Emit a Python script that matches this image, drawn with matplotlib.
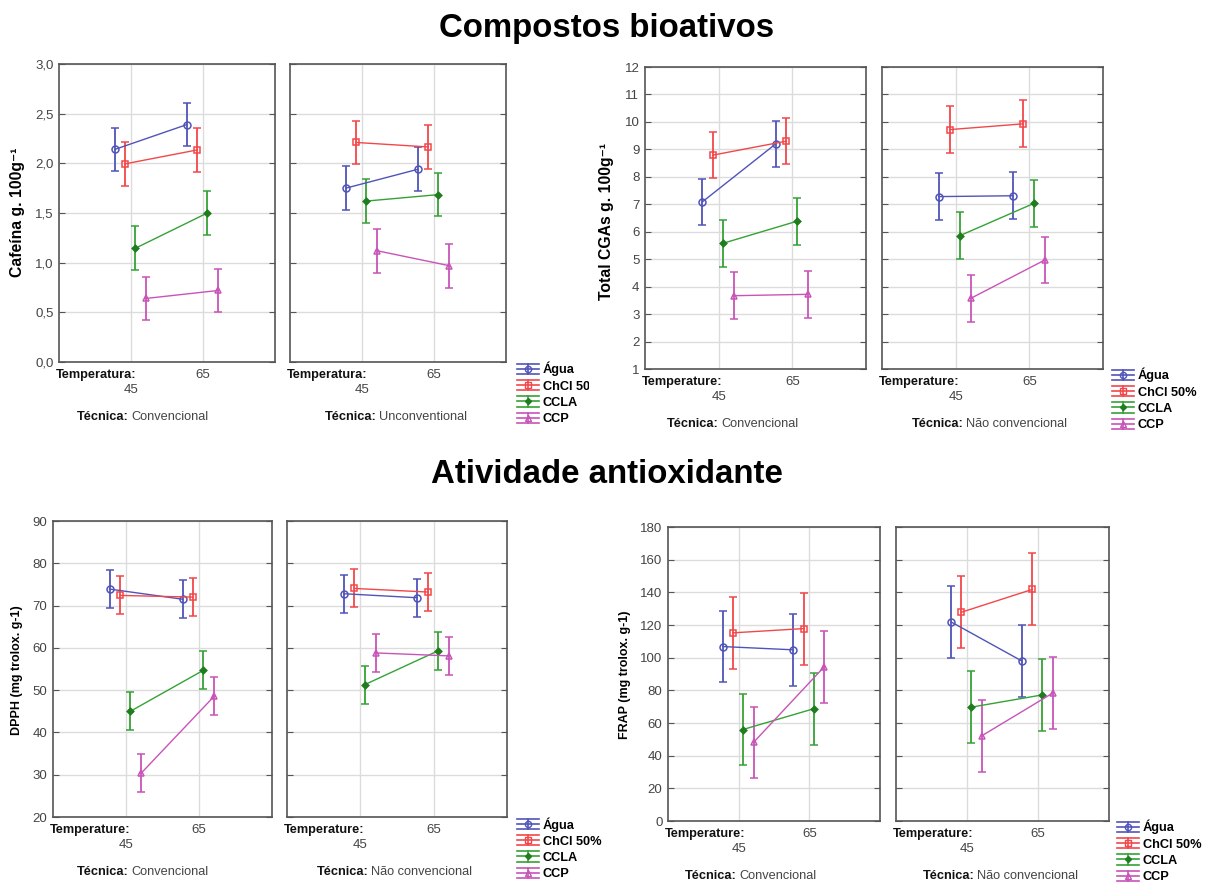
import matplotlib
matplotlib.use("Agg")
import matplotlib.pyplot as plt
import numpy as np
from matplotlib.transforms import Bbox
from matplotlib.lines import Line2D
from matplotlib.legend_handler import HandlerBase

plt.rcParams['font.family'] = ['Liberation Sans', 'DejaVu Sans']

W, H = 1206, 882

# ---- data: rows = Água, ChCl 50%, CCLA, CCP ; columns = 45, 65 °C ----
temps = ['45', '65']
series = ['Água', 'ChCl 50%', 'CCLA', 'CCP']

caf_conv = [[2.14, 2.39], [1.995, 2.135], [1.145, 1.50], [0.64, 0.72]]
caf_nconv = [[1.75, 1.94], [2.21, 2.165], [1.62, 1.685], [1.12, 0.97]]
caf_err = 0.22

cga_conv = [[7.08, 9.20], [8.79, 9.30], [5.58, 6.38], [3.67, 3.72]]
cga_nconv = [[7.28, 7.31], [9.72, 9.93], [5.86, 7.03], [3.58, 4.97]]
cga_err = 0.85

dpph_conv = [[73.9, 71.5], [72.4, 72.0], [45.0, 54.7], [30.4, 48.6]]
dpph_nconv = [[72.8, 71.85], [74.05, 73.2], [51.3, 59.3], [58.8, 58.1]]
dpph_err = 4.5

frap_conv = [[106.8, 104.8], [115.2, 117.8], [56.0, 68.7], [48.1, 94.4]]
frap_nconv = [[121.9, 97.9], [127.8, 141.8], [69.7, 77.2], [52.2, 78.4]]
frap_err = 22.0

colors = ['#5054b8', '#f2474a', '#35a235', '#c854b8']
markers = ['o', 's', 'D', '^']
msizes = [5.0, 4.8, 3.4, 5.0]
mfaces = ['none', 'none', '#1f7d1f', 'none']
medges = ['#5054b8', '#f2474a', '#1f7d1f', '#c854b8']
offsets = [-0.225, -0.08, 0.06, 0.21]

fig = plt.figure(figsize=(W / 100, H / 100), dpi=100)


def px_axes(x0, y0, x1, y1):
    return fig.add_axes([x0 / W, 1 - y1 / H, (x1 - x0) / W, (y1 - y0) / H])


def ftext(x, y, s, **kw):
    return fig.text(x / W, 1 - y / H, s, **kw)


class ErrorKeyHandler(HandlerBase):
    """Legend key: full-width caps above and below a marked line."""

    def __init__(self, idx):
        super().__init__()
        self.idx = idx

    def create_artists(self, legend, orig_handle, xdescent, ydescent,
                       width, height, fontsize, trans):
        i = self.idx
        x0, x1 = -xdescent, -xdescent + width
        cy = height / 2 - ydescent
        d = 3.7
        xm = (x0 + x1) / 2
        arts = []
        for yy in (cy - d, cy, cy + d):
            arts.append(Line2D([x0, x1], [yy, yy], color=colors[i], lw=1.2,
                               transform=trans))
        arts.append(Line2D([xm, xm], [cy - d, cy + d], color=colors[i],
                           lw=1.2, transform=trans))
        arts.append(Line2D([xm], [cy], marker=markers[i],
                           ms=msizes[i] * 0.9, mfc=mfaces[i], mec=medges[i],
                           mew=1.0, ls='none', transform=trans))
        return arts


def draw_panel(ax, data, err, ylim, yticks, ylabels):
    xs = np.arange(len(temps))
    for i, name in enumerate(series):
        ax.errorbar(xs + offsets[i], data[i], yerr=err, color=colors[i],
                    lw=1.0, elinewidth=1.3, capsize=2.6, capthick=1.2,
                    marker=markers[i], ms=msizes[i], mfc=mfaces[i],
                    mec=medges[i], mew=1.1, zorder=3)
    ax.set_xlim(-1, 2)
    ax.set_ylim(*ylim)
    ax.set_yticks(yticks)
    ax.set_xticks(xs)
    ax.grid(True, color='#dcdcdc', lw=1.0, zorder=0)
    ax.set_axisbelow(True)
    for sp in ax.spines.values():
        sp.set_color('#555555')
        sp.set_linewidth(1.2)
    ax.tick_params(axis='y', direction='in', length=4, color='#555555',
                   left=True, right=True, labelsize=9.5, labelcolor='#444444',
                   pad=4)
    ax.tick_params(axis='x', length=0, labelbottom=False)
    if ylabels is None:
        ax.tick_params(axis='y', labelleft=False)
    else:
        ax.set_yticklabels(ylabels)


def xlabels(box, tlabel, tech_x, tech_name):
    x0, y0, x1, y1 = box
    w = x1 - x0
    ftext(x0 - 3, y1 + 13, tlabel, fontsize=9.2, fontweight='bold',
          ha='left', va='center', color='#111111')
    ftext(x0 + w / 3, y1 + 28, temps[0], fontsize=9.5, ha='center',
          va='center', color='#444444')
    ftext(x0 + 2 * w / 3, y1 + 13, temps[1], fontsize=9.5, ha='center',
          va='center', color='#444444')
    ftext(tech_x, y1 + 55, 'Técnica:', fontsize=9.2, fontweight='bold',
          ha='left', va='center', color='#111111')
    ftext(tech_x + 54, y1 + 55, tech_name, fontsize=9.2, ha='left',
          va='center', color='#444444')


def add_legend(x, y, clip_x=None):
    proxies = [Line2D([], [], color=c) for c in colors]
    hmap = {p: ErrorKeyHandler(i) for i, p in enumerate(proxies)}
    leg = fig.legend(proxies, series, handler_map=hmap, loc='upper left',
                     bbox_to_anchor=(x / W, 1 - y / H), frameon=False,
                     prop={'weight': 'bold', 'size': 9.2}, handlelength=1.75,
                     handletextpad=0.25, labelspacing=0.33, borderpad=0,
                     borderaxespad=0)
    if clip_x is not None:
        clip = Bbox.from_extents(0, 0, clip_x, H)
        for t in leg.get_texts():
            t.set_clip_box(clip)
            t.set_clip_on(True)
    return leg


# ---- Cafeína ----
b1 = (59, 64, 275, 362)
b2 = (290, 64, 506, 362)
caf_ticks = np.arange(0, 3.01, 0.5)
caf_lbls = [f'{v:.1f}'.replace('.', ',') for v in caf_ticks]
ax1 = px_axes(*b1)
draw_panel(ax1, caf_conv, caf_err, (0, 3), caf_ticks, caf_lbls)
ax2 = px_axes(*b2)
draw_panel(ax2, caf_nconv, caf_err, (0, 3), caf_ticks, None)
xlabels(b1, 'Temperatura:', 77, 'Convencional')
xlabels(b2, 'Temperatura:', 325, 'Unconventional')
add_legend(517, 362, clip_x=589)
ftext(18, 212, 'Cafeína g. 100g⁻¹', rotation=90, fontsize=11.3,
      fontweight='bold', ha='center', va='center')

# ---- Total CGAs ----
b3 = (645, 67, 866, 369)
b4 = (882, 67, 1103, 369)
cga_ticks = np.arange(1, 13)
ax3 = px_axes(*b3)
draw_panel(ax3, cga_conv, cga_err, (1, 12), cga_ticks,
           [str(v) for v in cga_ticks])
ax4 = px_axes(*b4)
draw_panel(ax4, cga_nconv, cga_err, (1, 12), cga_ticks, None)
xlabels(b3, 'Temperature:', 667, 'Convencional')
xlabels(b4, 'Temperature:', 912, 'Não convencional')
add_legend(1112, 368)
ftext(607, 222, 'Total CGAs g. 100g⁻¹', rotation=90, fontsize=11.3,
      fontweight='bold', ha='center', va='center')

# ---- DPPH ----
b5 = (53, 521, 272, 817)
b6 = (287, 521, 507, 817)
dpph_ticks = np.arange(20, 91, 10)
ax5 = px_axes(*b5)
draw_panel(ax5, dpph_conv, dpph_err, (20, 90), dpph_ticks,
           [str(v) for v in dpph_ticks])
ax6 = px_axes(*b6)
draw_panel(ax6, dpph_nconv, dpph_err, (20, 90), dpph_ticks, None)
xlabels(b5, 'Temperature:', 77, 'Convencional')
xlabels(b6, 'Temperature:', 317, 'Não convencional')
add_legend(517, 817)
ftext(17, 670, 'DPPH (mg trolox. g-1)', rotation=90, fontsize=9,
      fontweight='bold', ha='center', va='center')

# ---- FRAP ----
b7 = (668, 527, 880, 821)
b8 = (896, 527, 1109, 821)
frap_ticks = np.arange(0, 181, 20)
ax7 = px_axes(*b7)
draw_panel(ax7, frap_conv, frap_err, (0, 180), frap_ticks,
           [str(v) for v in frap_ticks])
ax8 = px_axes(*b8)
draw_panel(ax8, frap_nconv, frap_err, (0, 180), frap_ticks, None)
xlabels(b7, 'Temperature:', 685, 'Convencional')
xlabels(b8, 'Temperature:', 923, 'Não convencional')
add_legend(1117, 820)
ftext(625, 675, 'FRAP (mg trolox. g-1)', rotation=90, fontsize=9,
      fontweight='bold', ha='center', va='center')

# ---- section titles ----
ftext(607, 29, 'Compostos bioativos', fontsize=23.8, fontweight='bold',
      ha='center', va='center')
ftext(607, 474, 'Atividade antioxidante', fontsize=23.8, fontweight='bold',
      ha='center', va='center')

fig.savefig('out.png', dpi=100, facecolor='white')
